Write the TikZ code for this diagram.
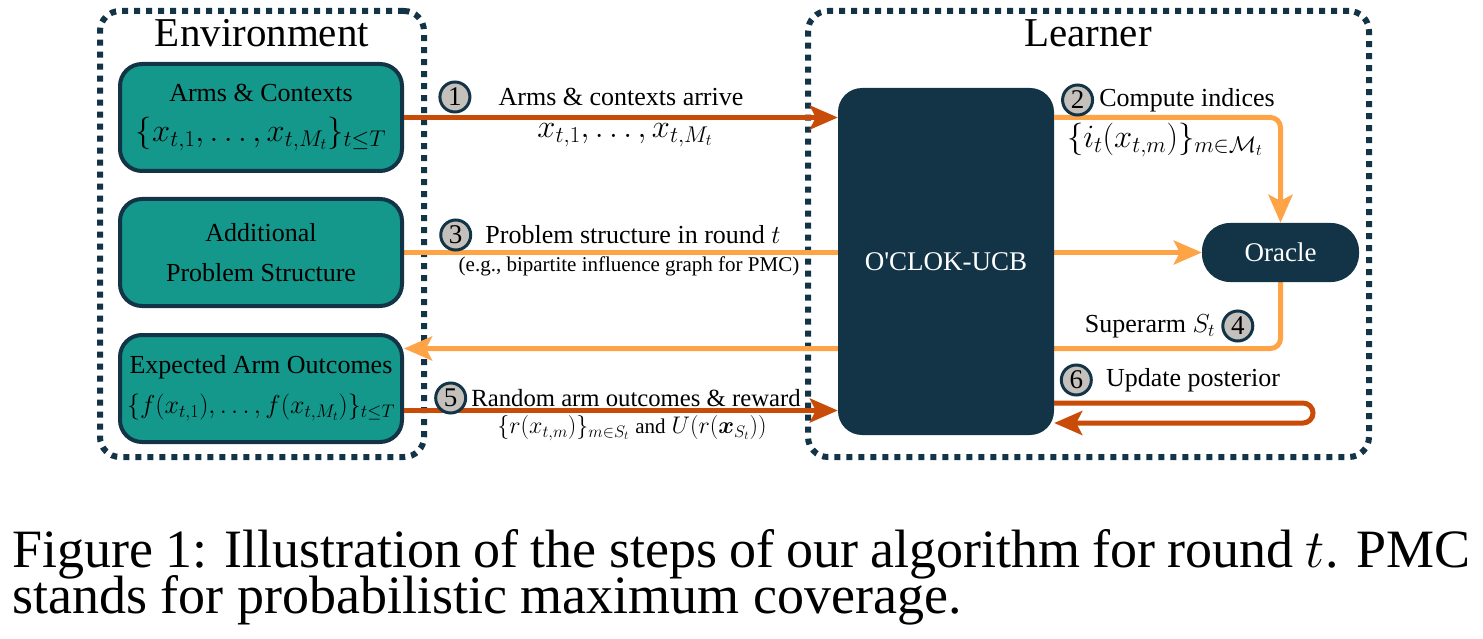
\documentclass[tikz,border=0pt]{standalone}
\usepackage{fix-cm}
\usepackage{fontspec}
\setmainfont{Liberation Serif}
\usepackage{amsmath}
\usetikzlibrary{positioning, arrows.meta, backgrounds}

\definecolor{navy}{RGB}{18,52,70}
\definecolor{envteal}{RGB}{20,152,139}
\definecolor{deeporange}{RGB}{200,75,8}
\definecolor{paleorange}{RGB}{255,163,71}
\definecolor{numgrey}{RGB}{196,192,187}

\newcommand{\bigmath}[1]{{\fontsize{32.5}{40}\selectfont$#1$}}

\begin{document}
\begin{tikzpicture}[x=1pt, y=-1pt, node distance=24pt,
    container/.style={draw=navy, line width=6pt, dash pattern=on 6pt off 6pt, rounded corners=20pt, minimum height=446pt},
    headline/.style={anchor=base, font=\fontsize{41}{48}\selectfont},
    envblock/.style={draw=navy, fill=envteal, line width=4pt, rounded corners=22pt, minimum width=282pt, minimum height=107pt, align=center, font=\fontsize{26}{40}\selectfont},
    darkblock/.style={fill=navy, text=white, rounded corners=24pt, font=\fontsize{27}{32}\selectfont},
    lbl/.style={font=\fontsize{26}{32}\selectfont, inner sep=4pt},
    smalllbl/.style={font=\fontsize{21}{26}\selectfont, inner sep=4pt},
    num/.style={circle, draw=navy, fill=numgrey, line width=3pt, minimum size=30pt, inner sep=0pt, font=\fontsize{27}{32}\selectfont},
    darrow/.style={draw=deeporange, line width=5pt, -{Stealth[length=28pt, width=24pt, inset=6pt]}},
    larrow/.style={draw=paleorange, line width=5pt, -{Stealth[length=28pt, width=24pt, inset=6pt]}}]

    \useasboundingbox (0,0) rectangle (1483,639);

    % Environment side
    \node[headline] (envtitle) at (262,47) {Environment};
    \node[envblock] (arms) at (261,117.5) {Arms \& Contexts\\\bigmath{\{x_{t,1},\ldots,x_{t,M_t}\}_{t\leq T}}};
    \node[envblock, below=24pt of arms] (extra) {Additional\\Problem Structure};
    \node[envblock, below=25pt of extra] (expected) {Expected Arm Outcomes\\$\{f(x_{t,1}),\ldots,f(x_{t,M_t})\}_{t\leq T}$};

    % Learner side
    \node[headline] (learntitle) at (1088,47) {Learner};
    \node[darkblock, minimum width=216pt, minimum height=347pt] (oclok) at (946,261.5) {O\textquotesingle CLOK-UCB};
    \node[darkblock, rounded corners=28pt, minimum width=157pt, minimum height=59pt] (oracle) at (1280.5,252.5) {Oracle};

    \coordinate (superin) at ([yshift=40pt]expected.east);
    \coordinate (outcome) at ([yshift=-22pt]expected.east);
    \coordinate (loopa) at (1313,403);
    \coordinate (loopb) at (1313,423);

    % Arrows
    \draw[darrow] (arms.east) -- (oclok.west |- arms.east);
    \draw[larrow, rounded corners=10pt] (oclok.east |- arms.east) -| (oracle.north);
    \draw[darrow] (outcome) -- (outcome -| oclok.west);
    \draw[darrow, rounded corners=10pt] (oclok.east |- loopa) -- (loopa) -- (loopb) -- (oclok.east |- loopb);

    \begin{scope}[on background layer]
        \node[container, minimum width=324pt] (envbox) at (262,234) {};
        \node[container, minimum width=561pt] (learnbox) at (1088.5,234) {};
        \draw[larrow] (extra.east) -- (oracle.west |- extra.east);
        \draw[larrow, rounded corners=10pt] (oracle.south) |- (superin);
    \end{scope}

    % Labels
    \node[lbl] (lab1) at (621,97) {Arms \& contexts arrive};
    \node[lbl] (lab1b) at (625,135) {\bigmath{x_{t,1},\ldots,x_{t,M_t}}};
    \node[num, left=23pt of lab1] (n1) {1};
    \node[lbl] (lab2) at (1187,100) {Compute indices};
    \node[lbl] (lab2b) at (1165,140) {\bigmath{\{i_t(x_{t,m})\}_{m\in\mathcal{M}_t}}};
    \node[num, left=1pt of lab2] (n2) {2};
    \node[lbl] (lab3) at (633,235) {Problem structure in round $t$};
    \node[smalllbl] (lab3b) at (629,266) {(e.g., bipartite influence graph for PMC)};
    \node[num, left=9pt of lab3] (n3) {3};
    \node[lbl] (lab4) at (1150,326) {Superarm $S_t$};
    \node[num, right=2pt of lab4] (n4) {4};
    \node[lbl, font=\fontsize{24.7}{30}\selectfont] (lab5) at (636,398) {Random arm outcomes \& reward};
    \node[smalllbl, font=\fontsize{24}{28}\selectfont] (lab5b) at (632,428) {$\{r(x_{t,m})\}_{m\in S_t}$ {\fontsize{21}{26}\selectfont and} $U(r(\boldsymbol{x}_{S_t}))$};
    \node[num, left=0pt of lab5] (n5) {5};
    \node[lbl] (lab6) at (1193,380) {Update posterior};
    \node[num, left=9pt of lab6] (n6) {6};

    % Caption
    \node[anchor=base west, inner sep=0pt, font=\fontsize{54}{46}\selectfont] (cap1) at (12,567) {\makebox[1458pt][s]{Figure 1: Illustration of the steps of our algorithm for round $t$. PMC}};
    \node[anchor=base west, inner sep=0pt, font=\fontsize{54}{46}\selectfont] (cap2) at (12,613) {stands for probabilistic maximum coverage.};
\end{tikzpicture}
\end{document}
